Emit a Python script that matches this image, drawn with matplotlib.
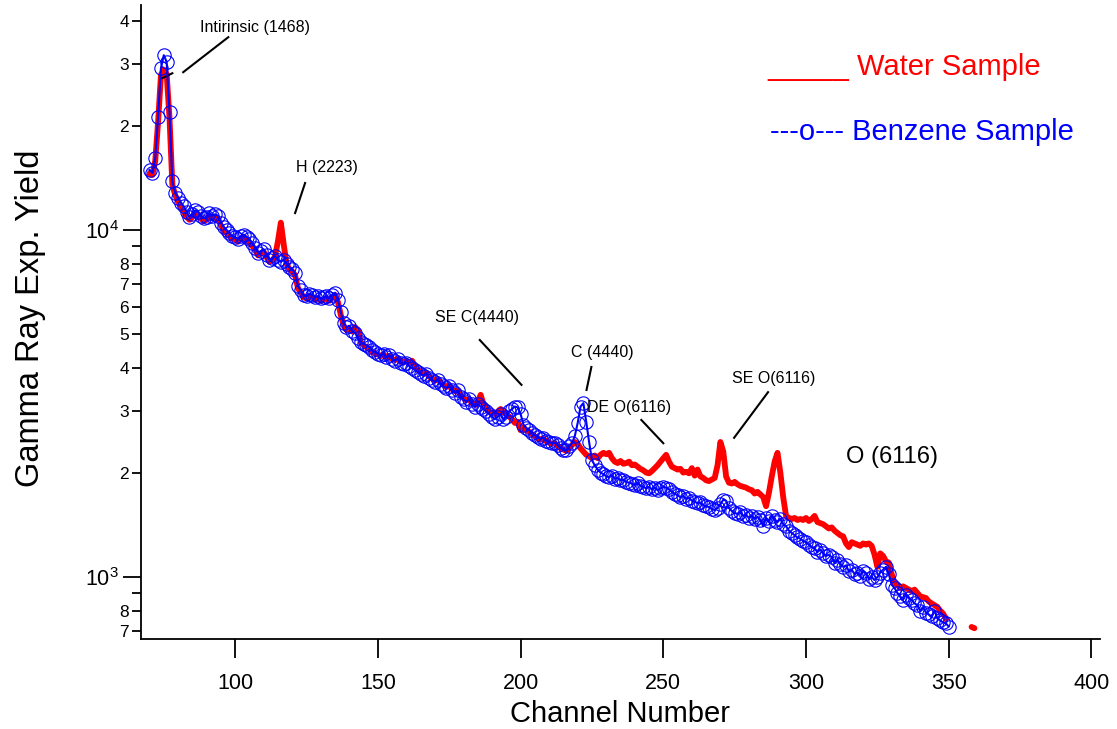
import numpy as np
import matplotlib
matplotlib.use('Agg')
import matplotlib.pyplot as plt
from matplotlib.ticker import FixedLocator, FixedFormatter

plt.rcParams['font.family'] = ['Liberation Sans', 'DejaVu Sans']
plt.rcParams['mathtext.default'] = 'regular'

# channel 70..350, benzene sample
benzene = [
    14900, 14600, 16100, 21200, 29300, 31900, 30500, 21900, 13800, 12800,   # 70
    12400, 12000, 11700, 11300, 10900, 11100, 11400, 11300, 11000, 10800,   # 80
    10900, 11200, 11000, 11100, 11000, 10500, 10200, 10000, 9800, 9600,     # 90
    9540, 9400, 9600, 9700, 9550, 9400, 9170, 8900, 8600, 8700,             # 100
    8800, 8500, 8200, 8300, 8400, 8200, 8100, 8200, 8000, 7800,             # 110
    7700, 7500, 6900, 6700, 6500, 6450, 6550, 6500, 6400, 6450,             # 120
    6350, 6400, 6450, 6350, 6500, 6600, 6300, 5800, 5400, 5250,             # 130
    5300, 5100, 5050, 4900, 4750, 4700, 4650, 4600, 4500, 4450,             # 140
    4400, 4350, 4400, 4300, 4350, 4250, 4200, 4250, 4150, 4100,             # 150
    4150, 4050, 4000, 3950, 3900, 3850, 3800, 3850, 3750, 3700,             # 160
    3650, 3700, 3600, 3550, 3500, 3550, 3450, 3400, 3450, 3300,             # 170
    3250, 3200, 3250, 3150, 3100, 3150, 3100, 3050, 3000, 2950,             # 180
    2900, 2850, 2900, 2950, 2850, 2900, 3000, 3050, 3100, 3080,             # 190
    2950, 2750, 2680, 2650, 2600, 2560, 2530, 2500, 2520, 2470,             # 200
    2450, 2430, 2440, 2400, 2360, 2330, 2320, 2380, 2430, 2550,             # 210
    2780, 3100, 3170, 2800, 2450, 2170, 2100, 2040, 2000, 1980,             # 220
    1950, 1940, 1960, 1920, 1930, 1900, 1910, 1880, 1870, 1860,             # 230
    1840, 1870, 1830, 1820, 1800, 1820, 1790, 1810, 1780, 1800,             # 240
    1820, 1810, 1790, 1760, 1740, 1720, 1700, 1710, 1680, 1690,             # 250
    1660, 1650, 1630, 1640, 1610, 1600, 1590, 1570, 1560, 1580,             # 260
    1620, 1670, 1660, 1580, 1550, 1530, 1520, 1540, 1500, 1510,             # 270
    1480, 1500, 1470, 1490, 1460, 1400, 1480, 1450, 1500, 1460,             # 280
    1440, 1470, 1420, 1400, 1360, 1340, 1320, 1300, 1290, 1270,             # 290
    1260, 1240, 1220, 1210, 1180, 1200, 1170, 1150, 1160, 1140,             # 300
    1100, 1120, 1090, 1070, 1080, 1040, 1050, 1020, 1030, 1010,             # 310
    1040, 1025, 990, 1000, 980, 1000, 1030, 1050, 1070, 1020,               # 320
    950, 930, 900, 880, 860, 890, 870, 860, 840, 830,                       # 330
    800, 820, 790, 780, 770, 800, 760, 750, 740, 735,                       # 340
    720,                                                                    # 350
]

# channel 70..349, water sample
water = [
    14500, 14400, 15800, 20500, 28000, 29000, 28200, 21000, 13500, 12600,   # 70
    12100, 11700, 11300, 10900, 10700, 10900, 11200, 11100, 10800, 10600,   # 80
    10700, 11000, 10800, 10900, 10800, 10300, 10000, 9800, 9600, 9450,      # 90
    9400, 9250, 9450, 9550, 9400, 9200, 9000, 8750, 8450, 8550,             # 100
    8650, 8350, 8100, 8150, 8400, 9300, 10500, 9100, 8000, 7700,            # 110
    7600, 7400, 6800, 6600, 6400, 6350, 6450, 6400, 6300, 6350,             # 120
    6250, 6300, 6350, 6250, 6400, 6500, 6200, 5700, 5300, 5150,             # 130
    5200, 5100, 5250, 5150, 4750, 4650, 4600, 4550, 4450, 4400,             # 140
    4380, 4330, 4380, 4300, 4330, 4250, 4220, 4260, 4180, 4150,             # 150
    4200, 4150, 4200, 4050, 3950, 3900, 3850, 3880, 3780, 3730,             # 160
    3680, 3720, 3630, 3580, 3530, 3560, 3480, 3430, 3450, 3330,             # 170
    3280, 3230, 3250, 3170, 3130, 3200, 3350, 3150, 3050, 3000,             # 180
    2980, 2950, 3000, 3050, 2980, 2950, 2900, 2850, 2780, 2800,             # 190
    2650, 2700, 2650, 2620, 2580, 2540, 2510, 2490, 2500, 2460,             # 200
    2440, 2420, 2430, 2390, 2350, 2330, 2310, 2350, 2400, 2450,             # 210
    2420, 2350, 2300, 2250, 2230, 2200, 2240, 2200, 2250, 2280,             # 220
    2260, 2280, 2200, 2150, 2130, 2160, 2120, 2130, 2150, 2100,             # 230
    2110, 2080, 2050, 2030, 2000, 1990, 2020, 2060, 2100, 2150,             # 240
    2200, 2250, 2150, 2080, 2060, 2040, 2050, 2000, 2010, 1990,             # 250
    2060, 1960, 2040, 1950, 1930, 1900, 1890, 1910, 1930, 2100,             # 260
    2450, 2300, 1950, 1870, 1860, 1880, 1850, 1830, 1820, 1810,             # 270
    1790, 1780, 1740, 1760, 1730, 1700, 1600, 1750, 1950, 2150,             # 280
    2280, 2000, 1700, 1500, 1480, 1470, 1480, 1460, 1470, 1460,             # 290
    1480, 1450, 1470, 1500, 1440, 1430, 1420, 1400, 1380, 1390,             # 300
    1360, 1340, 1320, 1310, 1250, 1220, 1260, 1250, 1240, 1230,             # 310
    1250, 1240, 1250, 1230, 1160, 1070, 1170, 1150, 1110, 1100,             # 320
    1020, 960, 950, 930, 940, 930, 920, 910, 920, 900,                      # 330
    880, 875, 870, 850, 840, 830, 820, 800, 785, 760,                       # 340
]

# short stray segment of the water trace past the gap
water_tail_ch = [358, 359]
water_tail = [718, 712]

benzene_ch = np.arange(70, 70 + len(benzene))
water_ch = np.arange(70, 70 + len(water))

fig = plt.figure(figsize=(11.17, 7.29), dpi=100)
ax = fig.add_axes([0.1262, 0.1235, 0.8586, 0.8696])

ax.plot(water_ch, water, color='red', lw=4.2, solid_joinstyle='round', zorder=2)
ax.plot(water_tail_ch, water_tail, color='red', lw=4.2, solid_capstyle='round', zorder=2)
ax.plot(benzene_ch, benzene, color='blue', lw=1.5, marker='o', ms=9.6,
        mfc='none', mec='blue', mew=0.8, zorder=3)

ax.set_yscale('log')
ax.set_xlim(67, 403)
ax.set_ylim(663, 44500)

for side in ['top', 'right']:
    ax.spines[side].set_visible(False)
for side in ['left', 'bottom']:
    ax.spines[side].set_linewidth(1.3)

ax.set_xticks([100, 150, 200, 250, 300, 350, 400])
ax.tick_params(axis='x', which='major', direction='out', length=13.5, width=1.3,
               labelsize=15.5, pad=11)
ax.tick_params(axis='x', which='minor', bottom=False)

majors = [1e3, 1e4]
minors = [7e2, 8e2, 9e2] + [m * 1e3 for m in range(2, 10)] + [m * 1e4 for m in range(2, 5)]
minor_labels = ['7', '8', '', '2', '3', '4', '5', '6', '7', '8', '', '2', '3', '4']
ax.yaxis.set_major_locator(FixedLocator(majors))
ax.yaxis.set_major_formatter(FixedFormatter(['$10^{3}$', '$10^{4}$']))
ax.yaxis.set_minor_locator(FixedLocator(minors))
ax.yaxis.set_minor_formatter(FixedFormatter(minor_labels))
ax.tick_params(axis='y', which='major', direction='out', length=13, width=1.3,
               labelsize=15.5, pad=3)
ax.tick_params(axis='y', which='minor', direction='out', length=6.5, width=1.3,
               labelsize=12.5, pad=2)

fig.text(0.555, 0.021, 'Channel Number', ha='center', va='center', fontsize=21)
fig.text(0.027, 0.564, 'Gamma Ray Exp. Yield', ha='center', va='center',
         rotation=90, fontsize=23.5)

# peak labels with leader lines
ann = dict(fontsize=11.5, ha='center', va='center', color='black')
ax.text(107, 38450, 'Intirinsic (1468)', **ann)
ax.plot([81.8, 97.6], [28500, 35950], color='black', lw=1.5)
ax.plot([74.5, 78.0], [27400, 28300], color='black', lw=1.5)

ax.text(132.2, 15190, 'H (2223)', **ann)
ax.plot([121.0, 124.5], [11190, 13660], color='black', lw=1.5)

ax.text(184.6, 5580, 'SE C(4440)', **ann)
ax.plot([185.7, 200.3], [4820, 3580], color='black', lw=1.5)

ax.text(228.7, 4450, 'C (4440)', **ann)
ax.plot([223.1, 224.8], [3460, 4030], color='black', lw=1.5)

ax.text(238.0, 3090, 'DE O(6116)', **ann)
ax.plot([242.3, 250.0], [2836, 2430], color='black', lw=1.5)

ax.text(288.5, 3745, 'SE O(6116)', **ann)
ax.plot([286.7, 274.8], [3410, 2519], color='black', lw=1.5)

ax.text(330, 2223, 'O (6116)', fontsize=17, ha='center', va='center')

# hand-made key
ax.text(0.653, 0.903, '_____ Water Sample', transform=ax.transAxes,
        color='red', fontsize=21, ha='left', va='center')
ax.text(0.656, 0.800, '---o--- Benzene Sample', transform=ax.transAxes,
        color='blue', fontsize=21, ha='left', va='center')

fig.savefig('out.png', dpi=100)
